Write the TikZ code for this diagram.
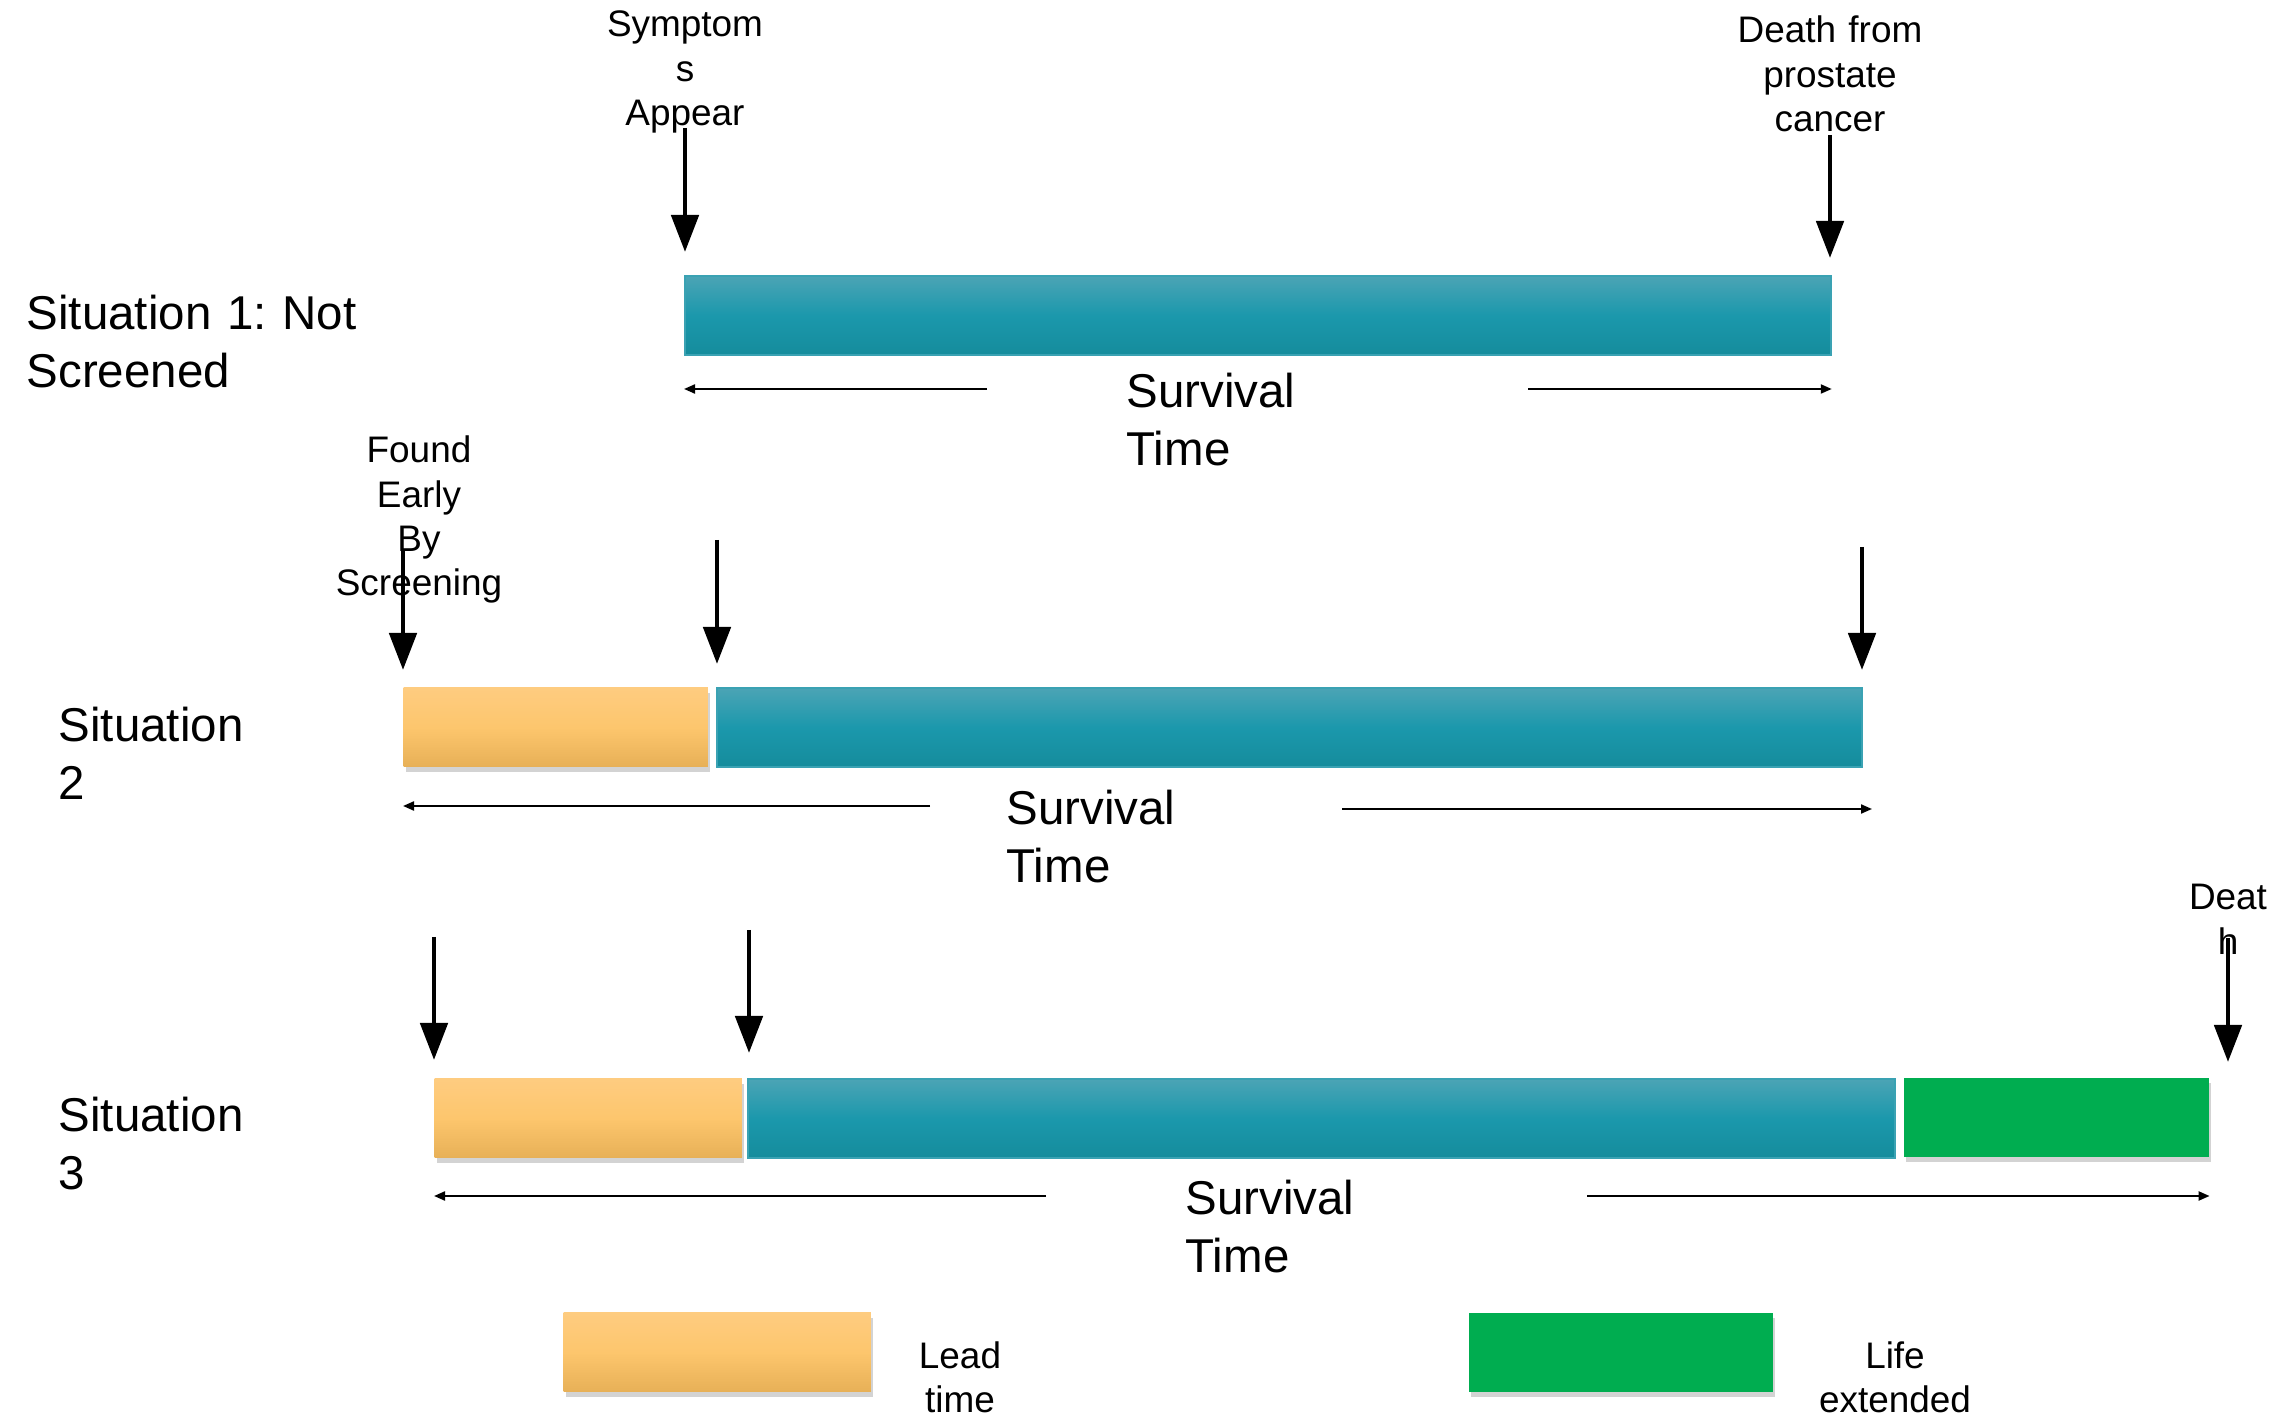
\documentclass[tikz,border=0pt]{standalone}
\usepackage{fontspec}
\setmainfont{Liberation Sans}
\frenchspacing
\usepackage{xcolor}
\usepackage{tikz}
\usetikzlibrary{
    positioning,
    arrows.meta,
    shadows
}
\definecolor{tealtop}{HTML}{4BA4B5}
\definecolor{tealmid}{HTML}{1B98AC}
\definecolor{tealbot}{HTML}{158C9C}
\definecolor{tealedge}{HTML}{3AA2B3}
\definecolor{leadtop}{HTML}{FECC80}
\definecolor{leadmid}{HTML}{FDC66D}
\definecolor{leadbot}{HTML}{E7B057}
\definecolor{extgreen}{HTML}{00AD50}
\newcommand{\lblfont}{\fontsize{13.5}{16.3}\selectfont}
\newcommand{\tagfont}{\fontsize{10.5}{12.6}\selectfont}
\tikzset{
    barbase/.style={
        rectangle, inner sep=0pt, anchor=north west,
        minimum height=0.79cm
    },
    survbar/.style={
        barbase, top color=tealtop, bottom color=tealbot, middle color=tealmid,
        draw=tealedge, line width=0.6pt
    },
    leadbar/.style={
        barbase, top color=leadtop, bottom color=leadbot, middle color=leadmid,
        drop shadow={shadow xshift=0.02cm, shadow yshift=-0.05cm, opacity=0.35}
    },
    extbar/.style={
        barbase, fill=extgreen,
        drop shadow={shadow xshift=0.02cm, shadow yshift=-0.05cm, opacity=0.35}
    },
    bigarrow/.style={
        -{Triangle[length=0.37cm, width=0.27cm]}, line width=1.4pt
    },
    survarrow/.style={
        -{Triangle[length=0.11cm, width=0.09cm]}, line width=0.6pt
    }
}

\begin{document}
\begin{tikzpicture}[
    x=0.01cm, y=-0.01cm,
    sitlabel/.style={anchor=base west, inner sep=0pt, text width=4cm, align=left, font=\lblfont},
    survlbl/.style={anchor=base west, inner sep=0pt, text width=3cm, align=left, font=\lblfont},
    eventlbl/.style={anchor=base, inner sep=0pt, text width=3cm, align=center, font=\tagfont}
  ]
    \useasboundingbox (0,0) rectangle (2293,1419);

    % Situation 1
    \node[sitlabel] (sit1) at (26,330) {Situation 1: Not\\Screened};
    \node[survbar, minimum width=11.45cm] (bar1) at (684,275) {};
    \node[eventlbl] (sympt1) at (685,37) {Symptom\\s\\Appear};
    \node[eventlbl] (death1) at (1830,43) {Death from\\prostate\\cancer};
    \coordinate (sym1top) at (685,128);
    \coordinate (death1top) at (1830,135);
    \draw[bigarrow, shorten >=0.23cm] (sym1top) -- (sym1top |- bar1.north);
    \draw[bigarrow, shorten >=0.17cm] (death1top) -- (death1top |- bar1.north);
    \node[survlbl] (surv1) at (1126,408) {Survival\\Time};
    \coordinate (s1l) at (987,389);
    \coordinate (s1r) at (1528,389);
    \draw[survarrow] (s1l) -- (bar1.west |- s1l);
    \draw[survarrow] (s1r) -- (bar1.east |- s1r);

    % Situation 2
    \node[sitlabel] (sit2) at (58,742) {Situation\\2};
    \node[leadbar, minimum width=3.04cm] (lead2) at (403,687) {};
    \node[survbar, minimum width=11.44cm] (bar2) at (716,687) {};
    \node[eventlbl] (found2) at (419,463) {Found\\Early\\By\\Screening};
    \coordinate (found2top) at (403,550);
    \coordinate (sym2top) at (717,540);
    \coordinate (death2top) at (1862,547);
    \draw[bigarrow, shorten >=0.17cm] (found2top) -- (found2top |- lead2.north);
    \draw[bigarrow, shorten >=0.23cm] (sym2top) -- (sym2top |- bar2.north);
    \draw[bigarrow, shorten >=0.17cm] (death2top) -- (death2top |- bar2.north);
    \node[survlbl] (surv2) at (1006,825) {Survival\\Time};
    \coordinate (s2l) at (930,806);
    \coordinate (s2r) at (1342,809);
    \coordinate (s2end) at (1872,809);
    \draw[survarrow] (s2l) -- (lead2.west |- s2l);
    \draw[survarrow] (s2r) -- (s2end);

    % Situation 3
    \node[sitlabel] (sit3) at (58,1132) {Situation\\3};
    \node[leadbar, minimum width=3.07cm] (lead3) at (434,1078) {};
    \node[survbar, minimum width=11.46cm] (bar3) at (747,1078) {};
    \node[extbar, minimum width=3.05cm] (ext3) at (1903,1077) {};
    \node[eventlbl] (death3) at (2228,910) {Deat\\h};
    \coordinate (found3top) at (434,937);
    \coordinate (sym3top) at (749,930);
    \coordinate (death3top) at (2228,938);
    \draw[bigarrow, shorten >=0.18cm] (found3top) -- (found3top |- lead3.north);
    \draw[bigarrow, shorten >=0.25cm] (sym3top) -- (sym3top |- bar3.north);
    \draw[bigarrow, shorten >=0.15cm] (death3top) -- (death3top |- ext3.north);
    \node[survlbl] (surv3) at (1185,1215) {Survival\\Time};
    \coordinate (s3l) at (1046,1196);
    \coordinate (s3r) at (1587,1196);
    \draw[survarrow] (s3l) -- (lead3.west |- s3l);
    \draw[survarrow] (s3r) -- (ext3.east |- s3r);

    % legend
    \node[leadbar, minimum width=3.07cm] (leadkey) at (563,1312) {};
    \node[eventlbl] (leadlbl) at (960,1368) {Lead\\time};
    \node[extbar, minimum width=3.04cm] (extkey) at (1468,1312) {};
    \node[eventlbl] (extlbl) at (1895,1368) {Life\\extended};

\end{tikzpicture}
\end{document}
